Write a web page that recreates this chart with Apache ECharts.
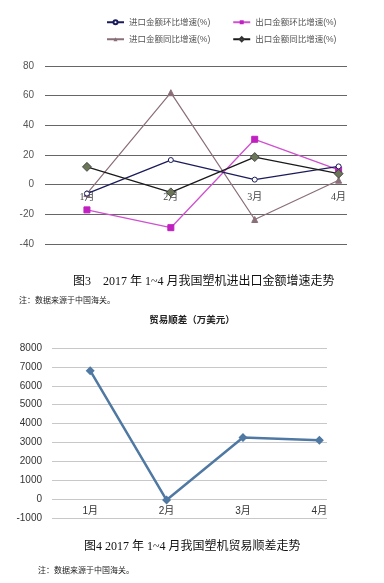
<!DOCTYPE html>
<html><head><meta charset="utf-8">
<script src="https://cdn.jsdelivr.net/npm/echarts@6/dist/echarts.min.js"></script>
<style>html,body{margin:0;padding:0;background:#fff}#c{width:384px;height:583px}</style>
</head><body><div id="c"></div>
<script>
const months = ['1月','2月','3月','4月'];
const seriesNames = ['进口金额环比增速(%)','出口金额环比增速(%)','进口金额同比增速(%)','出口金额同比增速(%)'];
const importMoM = [-6, 16.6, 3.4, 12.3];
const exportMoM = [-17, -29, 30.6, 10];
const importYoY = [-6, 62, -23.5, 3];
const exportYoY = [12, -5.2, 18.6, 7.4];
const growthTicks = [-40, -20, 0, 20, 40, 60, 80];
const tradeSurplus = [6800, -50, 3260, 3120];
const surplusTicks = [-1000, 0, 1000, 2000, 3000, 4000, 5000, 6000, 7000, 8000];

const toXY = arr => arr.map((v, i) => [i + 1, v]);
const monthLabel = v => (Math.abs(v - Math.round(v)) < 1e-6 && v >= 1 && v <= months.length) ? months[Math.round(v) - 1] : '';

const serif = '"Liberation Serif","Noto Sans CJK SC",serif';
const sans = '"Liberation Sans","Noto Sans CJK SC",sans-serif';

const chart = echarts.init(document.getElementById('c'), null, {renderer: 'canvas'});
const legendText = {fontSize: 8.5, color: '#555', fontFamily: sans};
chart.setOption({
  animation: false,
  backgroundColor: '#fff',
  title: [
    {text: '图3　2017 年 1~4 月我国塑机进出口金额增速走势', left: 68, top: 271,
     textStyle: {fontSize: 12, fontWeight: 'normal', color: '#111', fontFamily: serif}},
    {text: '注：数据来源于中国海关。', left: 14, top: 292,
     textStyle: {fontSize: 8, fontWeight: 'normal', color: '#222', fontFamily: serif}},
    {text: '贸易顺差（万美元）', left: 'center', top: 311,
     textStyle: {fontSize: 9.5, fontWeight: 'bold', color: '#222', fontFamily: sans}},
    {text: '图4 2017 年 1~4 月我国塑机贸易顺差走势', left: 79, top: 536,
     textStyle: {fontSize: 12, fontWeight: 'normal', color: '#111', fontFamily: serif}},
    {text: '注：数据来源于中国海关。', left: 33, top: 562,
     textStyle: {fontSize: 8, fontWeight: 'normal', color: '#222', fontFamily: serif}}
  ],
  legend: [
    {data: [seriesNames[0], seriesNames[1]], left: 106, top: 18, itemGap: 22, itemWidth: 17, itemHeight: 5, textStyle: legendText, padding: 0},
    {data: [seriesNames[2], seriesNames[3]], left: 106, top: 35, itemGap: 22, itemWidth: 17, itemHeight: 5, textStyle: legendText, padding: 0}
  ],
  grid: [
    {left: 45, right: 37, top: 66, bottom: 339},
    {left: 52, right: 57, top: 348, bottom: 65}
  ],
  xAxis: [
    {gridIndex: 0, type: 'value', min: 0.5, max: 4.1, interval: 0.5, offset: -59,
     axisLine: {show: false, onZero: false},
     axisTick: {show: false}, splitLine: {show: false},
     axisLabel: {formatter: monthLabel, fontSize: 10, color: '#444', fontFamily: serif, margin: 7, showMaxLabel: false}},
    {gridIndex: 1, type: 'value', min: 0.5, max: 4.1, interval: 0.5, offset: -19.7,
     axisLine: {show: false, onZero: false},
     axisTick: {show: false}, splitLine: {show: false},
     axisLabel: {formatter: monthLabel, fontSize: 10, color: '#333', fontFamily: sans, margin: 8, showMaxLabel: false}}
  ],
  yAxis: [
    {gridIndex: 0, type: 'value', min: growthTicks[0], max: growthTicks[growthTicks.length - 1], interval: 20,
     axisLine: {show: false, onZero: false}, axisTick: {show: false},
     splitLine: {lineStyle: {color: '#666', width: 1}},
     axisLabel: {fontSize: 10, color: '#555', fontFamily: sans, margin: 11}},
    {gridIndex: 1, type: 'value', min: surplusTicks[0], max: surplusTicks[surplusTicks.length - 1], interval: 1000,
     axisLine: {show: false, onZero: false}, axisTick: {show: false},
     splitLine: {lineStyle: {color: '#c8c8c8', width: 1}},
     axisLabel: {formatter: v => String(v), fontSize: 10, color: '#333', fontFamily: sans, margin: 10}}
  ],
  series: [
    {name: seriesNames[0], type: 'line', xAxisIndex: 0, yAxisIndex: 0, data: toXY(importMoM),
     lineStyle: {color: '#1c1c5c', width: 1.3}, symbol: 'circle', symbolSize: 5,
     itemStyle: {color: '#fff', borderColor: '#1c1c5c', borderWidth: 1}, z: 3},
    {name: seriesNames[1], type: 'line', xAxisIndex: 0, yAxisIndex: 0, data: toXY(exportMoM),
     lineStyle: {color: '#d050d0', width: 1.3}, symbol: 'rect', symbolSize: 6,
     itemStyle: {color: '#c020c0', borderColor: '#c020c0'}, z: 2},
    {name: seriesNames[2], type: 'line', xAxisIndex: 0, yAxisIndex: 0, data: toXY(importYoY),
     lineStyle: {color: '#8a6e78', width: 1.2}, symbol: 'triangle', symbolSize: 6,
     itemStyle: {color: '#8a6e78', borderColor: '#8a6e78'}, z: 2},
    {name: seriesNames[3], type: 'line', xAxisIndex: 0, yAxisIndex: 0, data: toXY(exportYoY),
     lineStyle: {color: '#1a1a1a', width: 1.3}, symbol: 'diamond', symbolSize: 9,
     itemStyle: {color: '#6a7657', borderColor: '#333', borderWidth: 0.8}, z: 4},
    {name: '贸易顺差', type: 'line', xAxisIndex: 1, yAxisIndex: 1, data: toXY(tradeSurplus),
     lineStyle: {color: '#4f79a3', width: 2.5}, symbol: 'diamond', symbolSize: 9,
     itemStyle: {color: '#4f79a3'}}
  ]
});
</script></body></html>
